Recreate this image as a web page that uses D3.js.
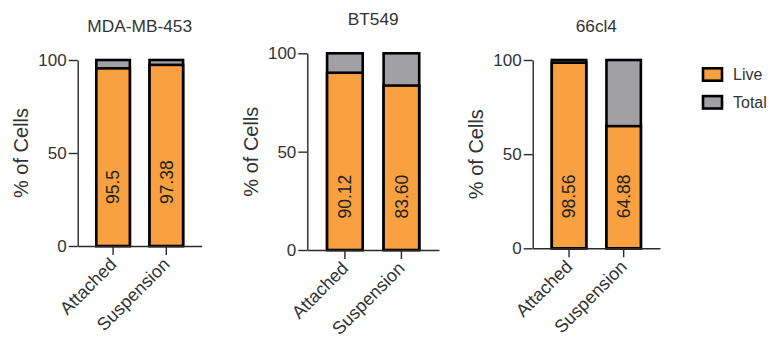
<!DOCTYPE html>
<html>
<head>
<meta charset="utf-8">
<script src="https://cdn.jsdelivr.net/npm/d3@7"></script>
<style>
  html, body { margin: 0; padding: 0; background: #fff; }
  svg { display: block; font-family: "Liberation Sans", Arial, sans-serif; }
</style>
</head>
<body>
<svg id="chart" width="769" height="341"></svg>
<script>
// ---- data ----
const panelTitles = ["MDA-MB-453", "BT549", "66cl4"];
const categories = ["Attached", "Suspension"];
const liveValues = [[95.5, 97.38], [90.12, 83.60], [98.56, 64.88]];
const liveLabels = [["95.5", "97.38"], ["90.12", "83.60"], ["98.56", "64.88"]];
const totalValues = [[100, 100], [100, 100], [100, 100]];
const yTicks = [0, 50, 100];
const seriesNames = ["Live", "Total"];
const yLabel = "% of Cells";

// ---- layout / style ----
const layout = [
  { left: 77.7, right: 201.7, top: 60, bottom: 246, titleY: 32.3, labelOffset: 42 },
  { left: 307.3, right: 439, top: 53.3, bottom: 250, titleY: 25, labelOffset: 31.5 },
  { left: 532.7, right: 660, top: 60, bottom: 248.3, titleY: 32.3, labelOffset: 30 }
];
const colors = { Live: "#F9A040", Total: "#A0A0A5" };
const textColor = "#333";
const axisColor = "#2a2a2a";

const svg = d3.select("#chart");

panelTitles.forEach((title, p) => {
  const L = layout[p];
  const x = d3.scaleBand().domain(categories).range([L.left, L.right])
    .paddingInner(0.37).paddingOuter(0.35);
  const y = d3.scaleLinear().domain([0, 100]).range([L.bottom, L.top]);
  const g = svg.append("g");

  // bars: total (behind), live (front)
  const rows = categories.map((c, i) => ({ c, live: liveValues[p][i], total: totalValues[p][i], label: liveLabels[p][i] }));
  g.selectAll("rect.total").data(rows).join("rect")
    .attr("class", "total")
    .attr("x", d => x(d.c)).attr("width", x.bandwidth())
    .attr("y", d => y(d.total)).attr("height", d => y(0) - y(d.total))
    .attr("fill", colors.Total).attr("stroke", "#000").attr("stroke-width", 2.6);
  g.selectAll("rect.live").data(rows).join("rect")
    .attr("class", "live")
    .attr("x", d => x(d.c)).attr("width", x.bandwidth())
    .attr("y", d => y(d.live)).attr("height", d => y(0) - y(d.live))
    .attr("fill", colors.Live).attr("stroke", "#000").attr("stroke-width", 2.6);

  // value labels
  g.selectAll("text.val").data(rows).join("text")
    .attr("class", "val")
    .attr("transform", d => `translate(${x(d.c) + x.bandwidth() / 2},${L.bottom - L.labelOffset}) rotate(-90)`)
    .attr("text-anchor", "start").attr("dy", "0.36em")
    .attr("font-size", 17.5).attr("fill", "#222")
    .text(d => d.label);

  // y axis
  const ya = g.append("g").attr("transform", `translate(${L.left},0)`)
    .call(d3.axisLeft(y).tickValues(yTicks).tickSize(9).tickSizeOuter(0).tickPadding(2));
  ya.select(".domain").attr("stroke", axisColor).attr("stroke-width", 1.4);
  ya.selectAll(".tick line").attr("stroke", axisColor).attr("stroke-width", 1.4);
  ya.selectAll(".tick text").attr("font-size", 17).attr("fill", textColor)
    .attr("font-family", "Liberation Sans, Arial, sans-serif");

  // x axis
  const xa = g.append("g").attr("transform", `translate(0,${L.bottom})`)
    .call(d3.axisBottom(x).tickSize(9).tickSizeOuter(0));
  xa.select(".domain").attr("stroke", axisColor).attr("stroke-width", 1.4);
  xa.selectAll(".tick line").attr("stroke", axisColor).attr("stroke-width", 1.4);
  xa.selectAll(".tick text")
    .attr("x", 0).attr("y", 0).attr("dy", 0)
    .attr("transform", "translate(4.5,19.5) rotate(-45)")
    .attr("text-anchor", "end")
    .attr("font-size", 18).attr("fill", textColor)
    .attr("font-family", "Liberation Sans, Arial, sans-serif");

  // y label
  g.append("text")
    .attr("transform", `translate(${L.left - 49.4},${(L.top + L.bottom) / 2}) rotate(-90)`)
    .attr("text-anchor", "middle")
    .attr("font-size", 20).attr("fill", textColor)
    .text(yLabel);

  // title
  g.append("text")
    .attr("x", (L.left + L.right) / 2).attr("y", L.titleY)
    .attr("text-anchor", "middle")
    .attr("font-size", 17.3).attr("fill", textColor)
    .text(title);
});

// legend
const lg = svg.append("g");
const legendY = d3.scalePoint().domain(seriesNames).range([74.5, 102.3]);
seriesNames.forEach(s => {
  lg.append("rect")
    .attr("x", 703).attr("y", legendY(s) - 6.2).attr("width", 19).attr("height", 12.4)
    .attr("fill", colors[s]).attr("stroke", "#000").attr("stroke-width", 2.6);
  lg.append("text")
    .attr("x", 733).attr("y", legendY(s)).attr("dy", "0.36em")
    .attr("font-size", 16).attr("fill", textColor)
    .text(s);
});
</script>
</body>
</html>
